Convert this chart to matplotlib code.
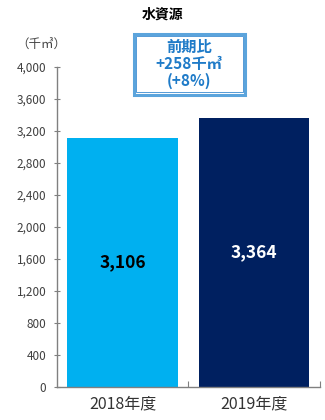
import matplotlib.pyplot as plt
from matplotlib.patches import FancyBboxPatch

plt.rcParams['font.family'] = ['Noto Sans CJK JP', 'DejaVu Sans']

# 水資源の使用量 (千㎥)
years = ['2018年度', '2019年度']
usage = [3106, 3364]
bar_colors = ['#00B0F0', '#002060']
label_colors = ['black', 'white']
yticks = [0, 400, 800, 1200, 1600, 2000, 2400, 2800, 3200, 3600, 4000]
diff_text = '前期比\n+258千㎥\n(+8%)'

fig = plt.figure(figsize=(3.25, 4.2), dpi=100)
ax = fig.add_axes([0.175, 0.079, 0.809, 0.762])

x = range(len(years))
bars = ax.bar(x, usage, width=0.84, color=bar_colors)
for bar, val, c in zip(bars, usage, label_colors):
    ax.text(bar.get_x() + bar.get_width() / 2, val / 2, f'{val:,}',
            ha='center', va='center', fontsize=12.5, fontweight='bold', color=c)

ax.set_xlim(-0.5, 1.5)
ax.set_ylim(0, 4000)
ax.set_yticks(yticks)
ax.set_yticklabels([f'{t:,}' for t in yticks])
ax.set_xticks([0.5, 1.5])
ax.set_xticklabels([])
for i, name in enumerate(years):
    ax.text(i, -110, name, ha='center', va='top', fontsize=11.5, color='#333333')

for side in ['top', 'right']:
    ax.spines[side].set_visible(False)
for side in ['left', 'bottom']:
    ax.spines[side].set_color('#808080')
    ax.spines[side].set_linewidth(1.0)
ax.tick_params(axis='y', direction='inout', length=5, color='#808080',
               labelsize=8.5, labelcolor='#404040', pad=5)
ax.tick_params(axis='x', direction='in', length=4, color='#808080')

fig.text(0.5, 0.966, '水資源', ha='center', va='center', fontsize=10,
         fontweight='bold')
fig.text(0.128, 0.893, '（千㎥）', ha='center', va='center', fontsize=9,
         color='#444444')

# 前期比の囲み
box = FancyBboxPatch((0.412, 0.775), 0.341, 0.145, boxstyle='square,pad=0',
                     transform=fig.transFigure, facecolor='white',
                     edgecolor='#5BA4DC', linewidth=2.2)
fig.patches.append(box)
inner = FancyBboxPatch((0.418, 0.780), 0.329, 0.135, boxstyle='square,pad=0',
                       transform=fig.transFigure, facecolor='none',
                       edgecolor='#3A8AD0', linewidth=0.6)
fig.patches.append(inner)
fig.text(0.582, 0.848, diff_text, ha='center', va='center', fontsize=11,
         fontweight='bold', color='#1F7BC8', linespacing=1.05)

fig.savefig('out.png', dpi=100)
